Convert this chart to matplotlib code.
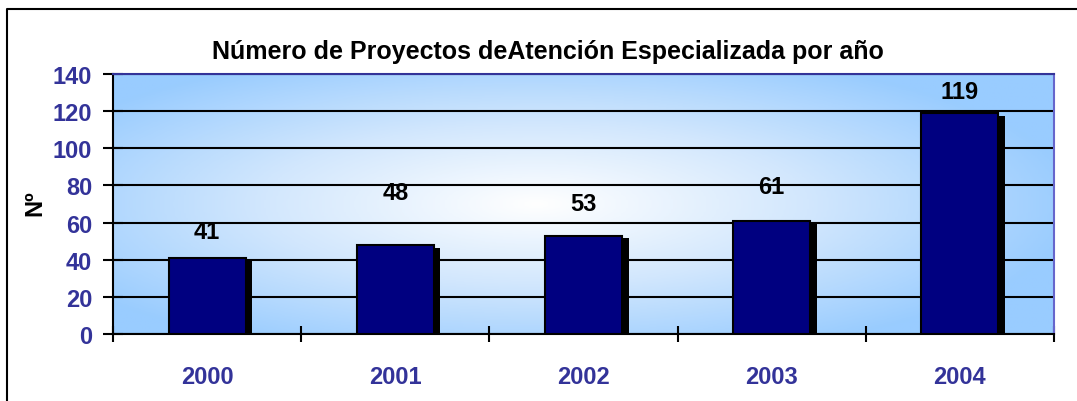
import numpy as np
import matplotlib
matplotlib.use("Agg")
import matplotlib.pyplot as plt
from matplotlib.lines import Line2D
from matplotlib.colors import LinearSegmentedColormap

plt.rcParams['font.family'] = ['Liberation Sans', 'DejaVu Sans']

years = ['2000', '2001', '2002', '2003', '2004']
projects = [41, 48, 53, 61, 119]
# where each value label sits (data units), as in the original chart
label_y = [55, 76, 70, 79.5, 130.5]

title = 'Número de Proyectos deAtención Especializada por año'
navy = '#000080'
tick_col = '#333399'

fig = plt.figure(figsize=(10.77, 4.02), dpi=100)
# outer frame: only top and left edges are inside the picture
fig.lines.append(Line2D([7/1077, 7/1077, 1.0], [0.0, 1-10/402, 1-10/402],
                        transform=fig.transFigure, color='black', linewidth=1.5))
ax = fig.add_axes([113/1077, 1-335/402, 941/1077, 260/402])

# radial gradient background
nx, ny = 400, 200
xx, yy = np.meshgrid(np.linspace(0, 1, nx), np.linspace(0, 1, ny))
r = np.sqrt(((xx - 0.45) / 0.58) ** 2 + ((yy - 0.5) / 0.62) ** 2)
r = np.clip(r, 0, 1)
cmap = LinearSegmentedColormap.from_list('bg', ['#ffffff', '#d2e7fd', '#99ccff'])
ax.imshow(r, cmap=cmap, extent=[-0.5, 4.5, 0, 140], aspect='auto', origin='lower',
          zorder=0, vmin=0, vmax=1)

ax.set_xlim(-0.5, 4.5)
ax.set_ylim(0, 140)
x = np.arange(len(years))
w = 0.41
# shadows
ax.bar(x + 0.035, projects, width=w, bottom=-1.5, color='black', zorder=2)
ax.bar(x, projects, width=w, color=navy, edgecolor='black', linewidth=1.5, zorder=3)
for xi, v, ly in zip(x, projects, label_y):
    ax.text(xi, ly, str(v), ha='center', va='center', fontsize=17, fontweight='bold',
            color='black', zorder=4)

ax.set_yticks(range(0, 141, 20))
ax.yaxis.grid(True, color='black', linewidth=1.5, zorder=1)
ax.set_axisbelow(True)
ax.set_xticks(x)
ax.set_xticklabels(years)
ax.set_xticks(np.arange(-0.5, 4.6, 1), minor=True)
ax.tick_params(axis='x', which='major', length=0, pad=22, labelsize=17, labelcolor=tick_col)
ax.tick_params(axis='x', which='minor', direction='inout', length=12, width=1.5)
ax.tick_params(axis='y', direction='inout', length=14, width=1.5, pad=8, labelsize=17,
               labelcolor=tick_col)
for lab in ax.get_xticklabels() + ax.get_yticklabels():
    lab.set_fontweight('bold')
ax.spines['left'].set_linewidth(1.5)
ax.spines['bottom'].set_linewidth(1.5)
ax.spines['top'].set_color(tick_col)
ax.spines['right'].set_color('#6666cc')
ax.spines['top'].set_linewidth(1.5)
ax.spines['right'].set_linewidth(1.5)

fig.text(35/1077, 1-203/402, 'Nº', rotation=90, ha='center', va='center', fontsize=17,
         fontweight='bold')
fig.text(548/1077, 1-52/402, title, ha='center', va='center', fontsize=18, fontweight='bold')

fig.savefig('out.png', dpi=100)
